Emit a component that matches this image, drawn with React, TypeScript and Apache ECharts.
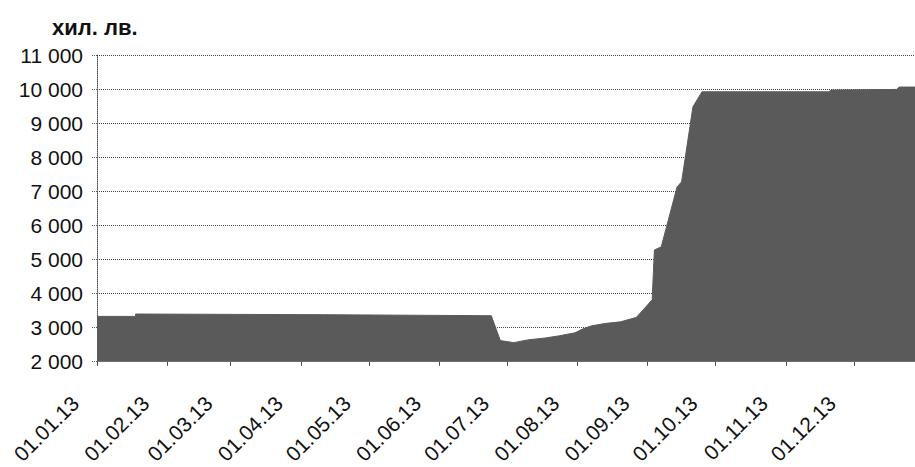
import React, { useEffect, useRef } from "react";
import * as echarts from "echarts";

// day index from 01.01.2013
const days = [0, 17, 17, 100, 174, 178, 184, 190, 198, 204, 211, 214, 218, 224, 231, 238, 241, 245, 246, 249, 256, 258, 263, 267, 323, 324, 353, 354, 361];
const values = [3330, 3330, 3400, 3380, 3350, 2620, 2560, 2640, 2700, 2760, 2850, 2950, 3050, 3120, 3170, 3300, 3520, 3820, 5280, 5370, 7130, 7280, 9480, 9920, 9920, 9970, 9990, 10060, 10060];

const tickDays = [0, 31, 59, 90, 120, 151, 181, 212, 243, 273, 304, 334];
const tickLabels = ["01.01.13", "01.02.13", "01.03.13", "01.04.13", "01.05.13", "01.06.13", "01.07.13", "01.08.13", "01.09.13", "01.10.13", "01.11.13", "01.12.13"];
const unitLabel = "хил. лв.";

export default function App() {
  const ref = useRef<HTMLDivElement>(null);
  useEffect(() => {
    if (!ref.current) return;
    const chart = echarts.init(ref.current, null, { renderer: "svg" });
    const font = "'Liberation Sans', Arial, sans-serif";
    chart.setOption({
      animation: false,
      backgroundColor: "#ffffff",
      title: {
        text: unitLabel,
        left: 47,
        top: 11,
        textStyle: { fontSize: 22, fontWeight: "bold", fontFamily: font, color: "#111" },
      },
      grid: { left: 97, right: 0, top: 55, bottom: 105, containLabel: false },
      xAxis: {
        type: "value",
        min: 0,
        max: 361,
        splitLine: { show: false },
        axisLine: { show: true, lineStyle: { color: "#bbb", width: 1 } },
        axisTick: {
          show: true,
          customValues: tickDays,
          length: 4,
          lineStyle: { color: "#444" },
        },
        axisLabel: {
          customValues: tickDays,
          rotate: 45,
          margin: 16,
          padding: [0, 31, 0, 0],
          fontSize: 21,
          fontFamily: font,
          color: "#111",
          formatter: (v: number) => {
            const i = tickDays.indexOf(Math.round(v));
            return i >= 0 ? tickLabels[i] : "";
          },
        },
      },
      yAxis: {
        type: "value",
        min: 2000,
        max: 11000,
        interval: 1000,
        axisLine: { show: true, lineStyle: { color: "#555", type: "dotted" } },
        axisTick: { show: true, length: 6, lineStyle: { color: "#555", type: "dotted" } },
        splitLine: { show: true, lineStyle: { color: "#444", type: "dotted", width: 1 } },
        axisLabel: {
          margin: 14,
          fontSize: 21,
          fontFamily: font,
          color: "#111",
          formatter: (v: number) => String(v).replace(/\B(?=(\d{3})+(?!\d))/g, " "),
        },
      },
      series: [
        {
          type: "line",
          data: days.map((d, i) => [d, values[i]]),
          symbol: "none",
          lineStyle: { color: "#5a5a5a", width: 1 },
          areaStyle: { color: "#5a5a5a", opacity: 1, origin: "start" },
        },
      ],
    });
    return () => chart.dispose();
  }, []);
  return (
    <div
      ref={ref}
      style={{ position: "absolute", left: 0, top: 0, width: 915, height: 467 }}
    />
  );
}
